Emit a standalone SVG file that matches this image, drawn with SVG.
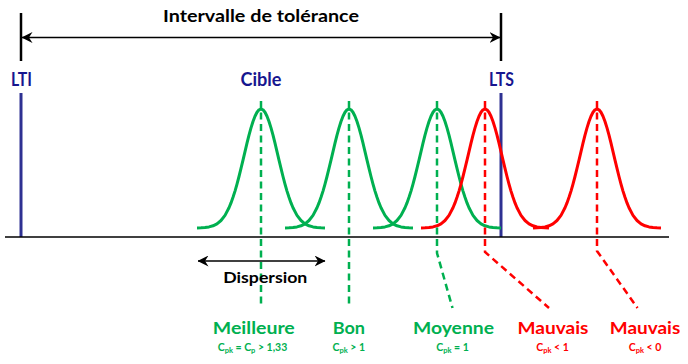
<svg xmlns="http://www.w3.org/2000/svg" xmlns:xlink="http://www.w3.org/1999/xlink" width="688" height="364" viewBox="0 0 688 364">
<style>
text{font-family:Lato,"Open Sans","Liberation Sans",sans-serif;font-weight:bold;text-anchor:middle}
.blk{fill:#000}
.nav{fill:#17168F;font-size:18px}
.gt{fill:#00B050}
.rt{fill:#FF0000}
.big{font-size:17px}
.sm{font-size:10.5px}
.sub{font-size:7.5px}
.curve{fill:none;stroke-width:3;stroke-linejoin:round;stroke-linecap:butt}
.gc{stroke:#00B050}
.rc{stroke:#FF0000}
.dash{fill:none;stroke-width:2.5;stroke-dasharray:7 4.5}
.blue{stroke:#2E3192;stroke-width:3}
.thin{stroke:#000;stroke-width:1.5;fill:none}
</style>
<defs>
<marker id="ah" viewBox="0 0 11 11" refX="10.5" refY="5.5" markerWidth="11" markerHeight="11" markerUnits="userSpaceOnUse" orient="auto-start-reverse">
<path d="M11,5.5 L0,0 L3.5,5.5 L0,11 Z" fill="#000"/>
</marker>
<path id="gauss" d="M-64,228 L-60,227.8 L-56,227.5 L-52,226.9 L-48,225.8 L-44,223.8 L-40,220.5 L-36,215.4 L-32,207.8 L-30,202.9 L-28,197.3 L-26,191.1 L-24,184.1 L-22,176.5 L-20,168.4 L-18,160.1 L-16,151.6 L-14,143.2 L-12,135.2 L-10,127.9 L-8,121.5 L-6,116.2 L-4,112.3 L-2,109.8 L0,109 L2,109.8 L4,112.3 L6,116.2 L8,121.5 L10,127.9 L12,135.2 L14,143.2 L16,151.6 L18,160.1 L20,168.4 L22,176.5 L24,184.1 L26,191.1 L28,197.3 L30,202.9 L32,207.8 L36,215.4 L40,220.5 L44,223.8 L48,225.8 L52,226.9 L56,227.5 L60,227.8 L64,228"/>
</defs>

<g id="title">
<text class="blk" x="261" y="22" font-size="17" textLength="196" lengthAdjust="spacingAndGlyphs">Intervalle de tolérance</text>
</g>

<g id="LTI">
<line x1="21" y1="93" x2="21" y2="237" class="blue"/>
<text class="nav" x="21.5" y="86" textLength="21" lengthAdjust="spacingAndGlyphs">LTI</text>
</g>
<g id="Cible">
<text class="nav" x="261" y="86" textLength="41" lengthAdjust="spacingAndGlyphs">Cible</text>
</g>
<g id="LTS">
<line x1="501" y1="93" x2="501" y2="237" class="blue"/>
<text class="nav" x="501.5" y="86" textLength="25" lengthAdjust="spacingAndGlyphs">LTS</text>
</g>

<g id="axis">
<line x1="5" y1="237" x2="669" y2="237" class="thin"/>
</g>

<g id="curve-meilleure"><use xlink:href="#gauss" x="261" class="curve gc"/></g>
<g id="curve-bon"><use xlink:href="#gauss" x="349" class="curve gc"/></g>
<g id="curve-moyenne"><use xlink:href="#gauss" x="437" class="curve gc"/></g>
<g id="curve-mauvais1"><use xlink:href="#gauss" x="485" class="curve rc"/></g>
<g id="curve-mauvais2"><use xlink:href="#gauss" x="597" class="curve rc"/></g>

<g id="connectors">
<line x1="21" y1="13" x2="21" y2="61" stroke="#000" stroke-width="2.5"/>
<line x1="501" y1="13" x2="501" y2="61" stroke="#000" stroke-width="2.5"/>
<line x1="22" y1="37.5" x2="500" y2="37.5" class="thin" marker-start="url(#ah)" marker-end="url(#ah)"/>
<line x1="198" y1="261" x2="325" y2="261" class="thin" marker-start="url(#ah)" marker-end="url(#ah)"/>
<polyline points="261,101 261,305" class="dash gc"/>
<polyline points="349,101 349,305" class="dash gc"/>
<polyline points="437,101 437,253 452.5,308" class="dash gc"/>
<polyline points="485,101 485,252 549,308" class="dash rc"/>
<polyline points="597,101 597,251 637.5,308" class="dash rc"/>
</g>

<g id="dispersion">
<text class="blk" x="265.3" y="282.7" font-size="16" textLength="84" lengthAdjust="spacingAndGlyphs">Dispersion</text>
</g>

<g id="label-meilleure">
<text class="gt big" x="253.8" y="333.5" textLength="82" lengthAdjust="spacingAndGlyphs">Meilleure</text>
<text class="gt sm" x="252.5" y="351">C<tspan class="sub" dy="2">pk</tspan><tspan dy="-2"> = C</tspan><tspan class="sub" dy="2">p</tspan><tspan dy="-2"> &gt; 1,33</tspan></text>
</g>
<g id="label-bon">
<text class="gt big" x="348.8" y="333.5" textLength="32.3" lengthAdjust="spacingAndGlyphs">Bon</text>
<text class="gt sm" x="348.8" y="351">C<tspan class="sub" dy="2">pk</tspan><tspan dy="-2"> &gt; 1</tspan></text>
</g>
<g id="label-moyenne">
<text class="gt big" x="453.5" y="333.5" textLength="81" lengthAdjust="spacingAndGlyphs">Moyenne</text>
<text class="gt sm" x="452.5" y="351">C<tspan class="sub" dy="2">pk</tspan><tspan dy="-2"> = 1</tspan></text>
</g>
<g id="label-mauvais1">
<text class="rt big" x="553" y="333.5" textLength="71" lengthAdjust="spacingAndGlyphs">Mauvais</text>
<text class="rt sm" x="552.5" y="351">C<tspan class="sub" dy="2">pk</tspan><tspan dy="-2"> &lt; 1</tspan></text>
</g>
<g id="label-mauvais2">
<text class="rt big" x="645" y="333.5" textLength="70.5" lengthAdjust="spacingAndGlyphs">Mauvais</text>
<text class="rt sm" x="645" y="351">C<tspan class="sub" dy="2">pk</tspan><tspan dy="-2"> &lt; 0</tspan></text>
</g>
</svg>
